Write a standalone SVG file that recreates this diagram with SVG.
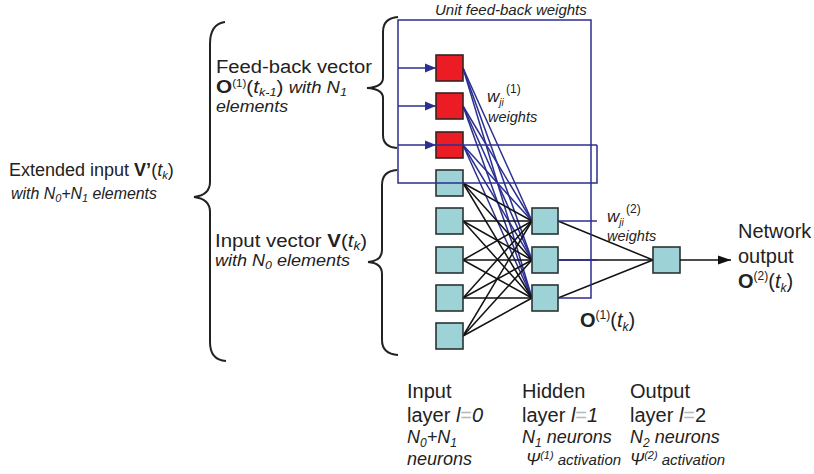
<svg xmlns="http://www.w3.org/2000/svg" width="814" height="474" viewBox="0 0 814 474">
<defs>
<marker id="ab" markerUnits="userSpaceOnUse" markerWidth="12" markerHeight="10" refX="11" refY="5" orient="auto"><path d="M0,0.5 L11,5 L0,9.5 Z" fill="#2b2f8f"/></marker>
<marker id="ak" markerUnits="userSpaceOnUse" markerWidth="14" markerHeight="10" refX="13" refY="5" orient="auto"><path d="M0,0.5 L13,5 L0,9.5 Z" fill="#111"/></marker>
</defs>
<style>
text{font-family:"Liberation Sans",Arial,sans-serif;fill:#222}
.i{font-style:italic}
.b{font-weight:bold}
.g{fill:#b8b8b8}
.red{fill:#ec1c24;stroke:#3a2222;stroke-width:1.6}
.cy{fill:#9dd2d6;stroke:#2a3333;stroke-width:1.6}
.bl{stroke:#2b2f8f;stroke-width:1.5;fill:none}
.bk{stroke:#111;stroke-width:1.5;fill:none}
.br{stroke:#222;stroke-width:2;fill:none}
</style>
<rect width="814" height="474" fill="#fff"/>

<g id="braces">
<path class="br" d="M225,22 Q210,24 210,44 L210,182 Q210,195 194,197 Q210,199 210,212 L210,342 Q210,360 226,361"/>
<path class="br" d="M398,17 Q383,18 383,32 L383,78 Q383,87 367,88 Q383,89 383,98 L383,135 Q383,147 397,148"/>
<path class="br" d="M397,170 Q382,171 382,185 L382,250 Q382,261 368,262 Q382,263 382,274 L382,340 Q382,354 398,355"/>
</g>

<g id="connectors-weights">
<g class="bl">
<line x1="463" y1="68" x2="532" y2="221"/><line x1="463" y1="68" x2="532" y2="260"/><line x1="463" y1="68" x2="532" y2="298"/>
<line x1="463" y1="106" x2="532" y2="221"/><line x1="463" y1="106" x2="532" y2="260"/><line x1="463" y1="106" x2="532" y2="298"/>
<line x1="463" y1="145" x2="532" y2="221"/><line x1="463" y1="145" x2="532" y2="260"/><line x1="463" y1="145" x2="532" y2="298"/>
</g>
<g class="bk">
<line x1="463" y1="183" x2="532" y2="221"/><line x1="463" y1="183" x2="532" y2="260"/><line x1="463" y1="183" x2="532" y2="298"/>
<line x1="463" y1="221" x2="532" y2="221"/><line x1="463" y1="221" x2="532" y2="260"/><line x1="463" y1="221" x2="532" y2="298"/>
<line x1="463" y1="260" x2="532" y2="221"/><line x1="463" y1="260" x2="532" y2="260"/><line x1="463" y1="260" x2="532" y2="298"/>
<line x1="463" y1="298" x2="532" y2="221"/><line x1="463" y1="298" x2="532" y2="260"/><line x1="463" y1="298" x2="532" y2="298"/>
<line x1="463" y1="336" x2="532" y2="221"/><line x1="463" y1="336" x2="532" y2="260"/><line x1="463" y1="336" x2="532" y2="298"/>
<line x1="558" y1="221" x2="653" y2="260"/><line x1="558" y1="260" x2="653" y2="260"/><line x1="558" y1="298" x2="653" y2="260"/>
</g>
</g>

<g id="input-red-1"><rect class="red" x="436" y="55" width="27" height="26"/></g>
<g id="input-red-2"><rect class="red" x="436" y="93" width="27" height="26"/></g>
<g id="input-red-3"><rect class="red" x="436" y="132" width="27" height="26"/></g>
<g id="input-1"><rect class="cy" x="436" y="170" width="27" height="26"/></g>
<g id="input-2"><rect class="cy" x="436" y="208" width="27" height="26"/></g>
<g id="input-3"><rect class="cy" x="436" y="247" width="27" height="26"/></g>
<g id="input-4"><rect class="cy" x="436" y="285" width="27" height="26"/></g>
<g id="input-5"><rect class="cy" x="436" y="323" width="27" height="26"/></g>
<g id="hidden-1"><rect class="cy" x="532" y="208" width="26" height="26"/></g>
<g id="hidden-2"><rect class="cy" x="532" y="247" width="26" height="26"/></g>
<g id="hidden-3"><rect class="cy" x="532" y="285" width="26" height="26"/></g>
<g id="output"><rect class="cy" x="653" y="247" width="27" height="26"/></g>

<g id="connectors-feedback" class="bl">
<path d="M558,298 H591 V20 H398 V183 H597 V145"/>
<path d="M436,145 H597"/>
<path d="M558,221 H597"/>
<path d="M558,260 H597"/>
<line x1="398" y1="68" x2="436" y2="68" marker-end="url(#ab)"/>
<line x1="398" y1="106" x2="436" y2="106" marker-end="url(#ab)"/>
<line x1="398" y1="145" x2="436" y2="145" marker-end="url(#ab)"/>
<line x1="680" y1="260" x2="731" y2="260" marker-end="url(#ak)" style="stroke:#111"/>
</g>

<g id="labels">
<text x="435" y="15" class="i" font-size="15">Unit feed-back weights</text>

<text x="9" y="176" font-size="18">Extended input <tspan class="b">V’</tspan>(<tspan class="i">t</tspan><tspan class="i" font-size="11" dy="3">k</tspan><tspan dy="-3">)</tspan></text>
<text x="11" y="199" class="i" font-size="16" textLength="146" lengthAdjust="spacingAndGlyphs">with N<tspan font-size="11" dy="3">0</tspan><tspan dy="-3">+N</tspan><tspan font-size="11" dy="3">1</tspan><tspan dy="-3"> elements</tspan></text>

<text x="216" y="73" font-size="18" textLength="156" lengthAdjust="spacingAndGlyphs">Feed-back vector</text>
<text x="216" y="93" font-size="18" textLength="131" lengthAdjust="spacingAndGlyphs"><tspan class="b">O</tspan><tspan font-size="10" dy="-6">(1)</tspan><tspan dy="6">(</tspan><tspan class="i">t</tspan><tspan class="i" font-size="11" dy="3">k-1</tspan><tspan dy="-3">)</tspan><tspan class="i" font-size="16"> with N</tspan><tspan class="i" font-size="11" dy="3">1</tspan></text>
<text x="216" y="112" class="i" font-size="16" textLength="72" lengthAdjust="spacingAndGlyphs">elements</text>

<text x="215" y="247" font-size="18" textLength="152" lengthAdjust="spacingAndGlyphs">Input vector <tspan class="b">V</tspan>(<tspan class="i">t</tspan><tspan class="i" font-size="12" dy="3">k</tspan><tspan dy="-3">)</tspan></text>
<text x="215" y="266" class="i" font-size="16" textLength="135" lengthAdjust="spacingAndGlyphs">with N<tspan font-size="11" dy="3">0</tspan><tspan dy="-3"> elements</tspan></text>

<text x="487" y="102" class="i" font-size="17">w<tspan font-size="10" dy="4">ji</tspan></text>
<text x="506" y="93" font-size="12">(1)</text>
<text x="488" y="122" class="i" font-size="14.5">weights</text>

<text x="607" y="222" class="i" font-size="17">w<tspan font-size="10" dy="4">ji</tspan></text>
<text x="626" y="213" font-size="12">(2)</text>
<text x="607" y="241" class="i" font-size="14.5">weights</text>

<text x="580" y="327" font-size="20"><tspan class="b">O</tspan><tspan font-size="12" dy="-8">(1)</tspan><tspan dy="8">(</tspan><tspan class="i">t</tspan><tspan class="i" font-size="12" dy="4">k</tspan><tspan dy="-4">)</tspan></text>

<text x="738" y="238" font-size="20">Network</text>
<text x="738" y="263" font-size="20">output</text>
<text x="738" y="288" font-size="20"><tspan class="b">O</tspan><tspan font-size="12" dy="-8">(2)</tspan><tspan dy="8">(</tspan><tspan class="i">t</tspan><tspan class="i" font-size="12" dy="4">k</tspan><tspan dy="-4">)</tspan></text>

<text x="407" y="398" font-size="20">Input</text>
<text x="407" y="422" font-size="20">layer <tspan class="i">l</tspan><tspan class="g">=</tspan><tspan class="i">0</tspan></text>
<text x="407" y="443" class="i" font-size="18">N<tspan font-size="12" dy="4">0</tspan><tspan dy="-4">+N</tspan><tspan font-size="12" dy="4">1</tspan></text>
<text x="407" y="465" class="i" font-size="18">neurons</text>

<text x="522" y="398" font-size="20">Hidden</text>
<text x="522" y="422" font-size="20">layer <tspan class="i">l</tspan><tspan class="g">=</tspan><tspan class="i">1</tspan></text>
<text x="522" y="443" class="i" font-size="18">N<tspan font-size="12" dy="4">1</tspan><tspan dy="-4"> neurons</tspan></text>
<text x="526" y="465" class="i" font-size="15"><tspan font-size="17">Ψ</tspan><tspan font-size="11" dy="-6">(1)</tspan><tspan dy="6"> activation</tspan></text>

<text x="630" y="398" font-size="20">Output</text>
<text x="630" y="422" font-size="20">layer <tspan class="i">l</tspan><tspan class="g">=</tspan>2</text>
<text x="630" y="443" class="i" font-size="18">N<tspan font-size="12" dy="4">2</tspan><tspan dy="-4"> neurons</tspan></text>
<text x="630" y="465" class="i" font-size="15"><tspan font-size="17">Ψ</tspan><tspan font-size="11" dy="-6">(2)</tspan><tspan dy="6"> activation</tspan></text>
</g>
</svg>
